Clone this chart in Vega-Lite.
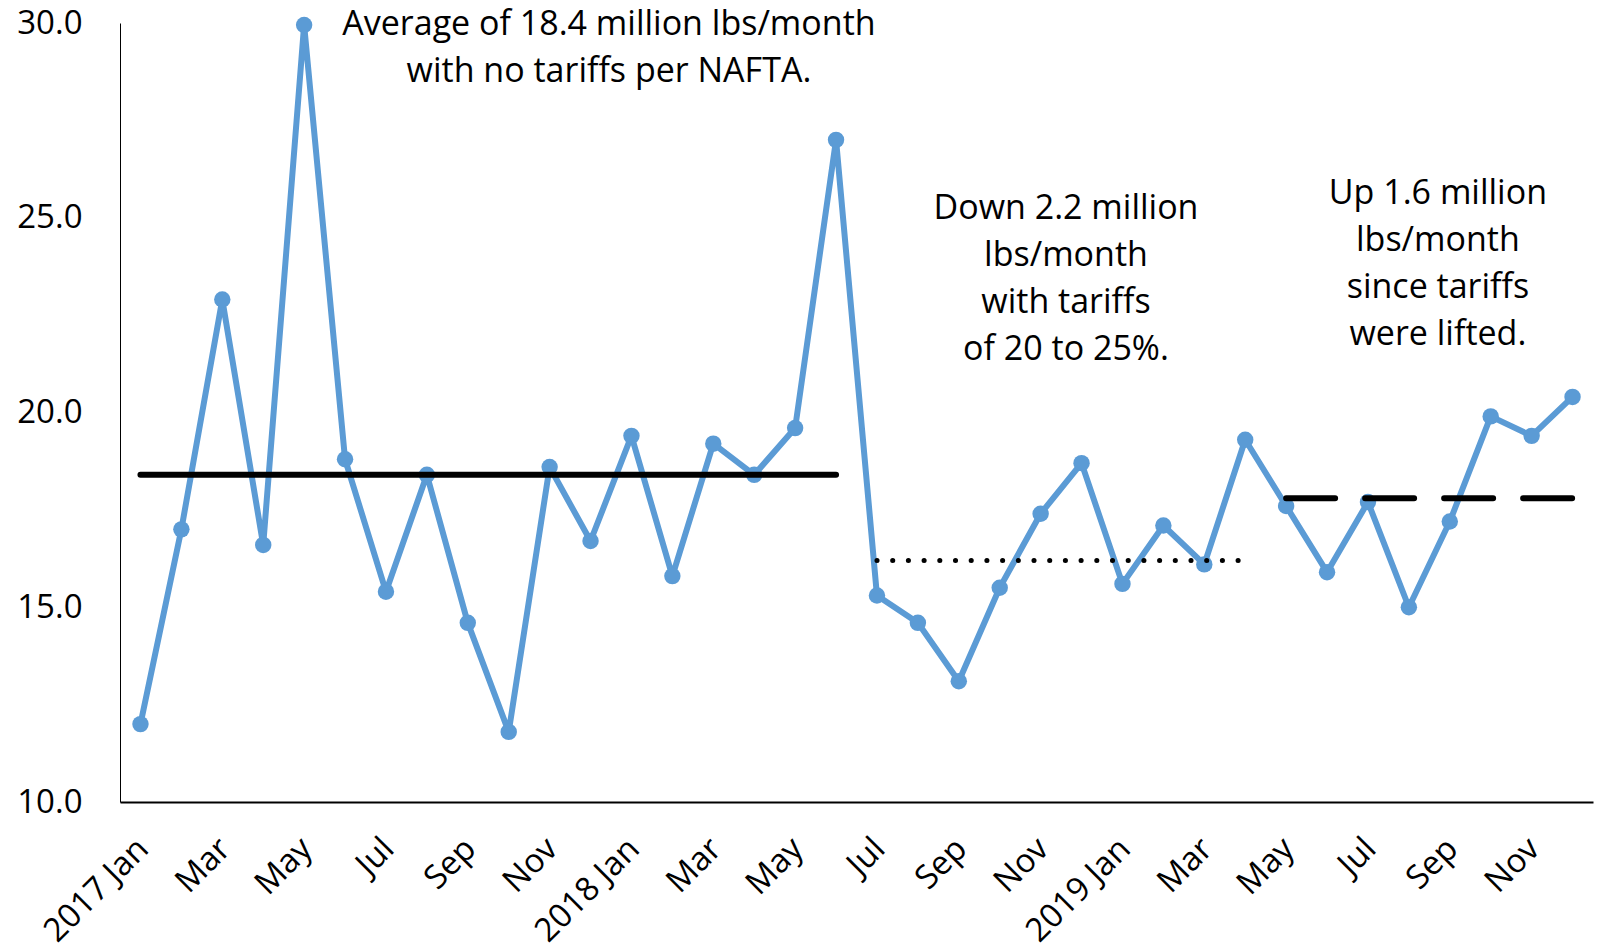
{
  "$schema": "https://vega.github.io/schema/vega-lite/v6.json",
  "autosize": "none",
  "width": 1473,
  "height": 779,
  "padding": {"left": 120, "top": 23, "right": 4, "bottom": 148},
  "background": "white",
  "config": {
    "view": {"stroke": null},
    "font": "Open Sans",
    "axis": {"labelFont": "Open Sans", "labelFontSize": 33, "labelColor": "#000000", "grid": false, "ticks": false, "domainColor": "#000000", "title": null}
  },
  "datasets": {
    "exports": [
      {"m": 1, "month": "2017 Jan", "value": 12.0},
      {"m": 2, "month": "2017 Feb", "value": 17.0},
      {"m": 3, "month": "2017 Mar", "value": 22.9},
      {"m": 4, "month": "2017 Apr", "value": 16.6},
      {"m": 5, "month": "2017 May", "value": 29.95},
      {"m": 6, "month": "2017 Jun", "value": 18.8},
      {"m": 7, "month": "2017 Jul", "value": 15.4},
      {"m": 8, "month": "2017 Aug", "value": 18.4},
      {"m": 9, "month": "2017 Sep", "value": 14.6},
      {"m": 10, "month": "2017 Oct", "value": 11.8},
      {"m": 11, "month": "2017 Nov", "value": 18.6},
      {"m": 12, "month": "2017 Dec", "value": 16.7},
      {"m": 13, "month": "2018 Jan", "value": 19.4},
      {"m": 14, "month": "2018 Feb", "value": 15.8},
      {"m": 15, "month": "2018 Mar", "value": 19.2},
      {"m": 16, "month": "2018 Apr", "value": 18.4},
      {"m": 17, "month": "2018 May", "value": 19.6},
      {"m": 18, "month": "2018 Jun", "value": 27.0},
      {"m": 19, "month": "2018 Jul", "value": 15.3},
      {"m": 20, "month": "2018 Aug", "value": 14.6},
      {"m": 21, "month": "2018 Sep", "value": 13.1},
      {"m": 22, "month": "2018 Oct", "value": 15.5},
      {"m": 23, "month": "2018 Nov", "value": 17.4},
      {"m": 24, "month": "2018 Dec", "value": 18.7},
      {"m": 25, "month": "2019 Jan", "value": 15.6},
      {"m": 26, "month": "2019 Feb", "value": 17.1},
      {"m": 27, "month": "2019 Mar", "value": 16.1},
      {"m": 28, "month": "2019 Apr", "value": 19.3},
      {"m": 29, "month": "2019 May", "value": 17.6},
      {"m": 30, "month": "2019 Jun", "value": 15.9},
      {"m": 31, "month": "2019 Jul", "value": 17.7},
      {"m": 32, "month": "2019 Aug", "value": 15.0},
      {"m": 33, "month": "2019 Sep", "value": 17.2},
      {"m": 34, "month": "2019 Oct", "value": 19.9},
      {"m": 35, "month": "2019 Nov", "value": 19.4},
      {"m": 36, "month": "2019 Dec", "value": 20.4}
    ],
    "avgNafta": [{"start": 1, "end": 18, "avg": 18.4}],
    "avgTariff": [{"start": 19, "end": 28, "avg": 16.2}],
    "avgLifted": [{"start": 29, "end": 36, "avg": 17.8}],
    "notes": [
      {"x": 12.45, "y": 29.94, "note": "Average of 18.4 million lbs/month\nwith no tariffs per NAFTA."},
      {"x": 23.62, "y": 25.23, "note": "Down 2.2 million\nlbs/month\nwith tariffs\nof 20 to 25%."},
      {"x": 32.71, "y": 25.62, "note": "Up 1.6 million\nlbs/month\nsince tariffs\nwere lifted."}
    ]
  },
  "layer": [
    {
      "data": {"name": "exports"},
      "mark": {"type": "line", "color": "#5B9BD5", "strokeWidth": 6, "strokeJoin": "round", "point": {"filled": true, "size": 270, "color": "#5B9BD5", "opacity": 1}},
      "encoding": {
        "x": {
          "field": "m", "type": "quantitative",
          "scale": {"domain": [0.5, 36.5], "nice": false, "zero": false},
          "axis": {
            "values": [1, 3, 5, 7, 9, 11, 13, 15, 17, 19, 21, 23, 25, 27, 29, 31, 33, 35],
            "labelExpr": "['','2017 Jan','','Mar','','May','','Jul','','Sep','','Nov','','2018 Jan','','Mar','','May','','Jul','','Sep','','Nov','','2019 Jan','','Mar','','May','','Jul','','Sep','','Nov',''][datum.value]",
            "labelAngle": -45,
            "labelPadding": 30,
            "labelOffset": -9,
            "domainWidth": 2,
            "labelFlush": false,
            "labelOverlap": false,
            "labelBound": false
          }
        },
        "y": {
          "field": "value", "type": "quantitative",
          "scale": {"domain": [10, 30], "nice": false, "zero": false},
          "axis": {"values": [10, 15, 20, 25, 30], "format": ".1f", "labelPadding": 38, "domainWidth": 1, "labelFlush": false}
        }
      }
    },
    {
      "data": {"name": "avgNafta"},
      "mark": {"type": "rule", "color": "#000000", "strokeWidth": 6, "strokeCap": "round"},
      "encoding": {
        "x": {"field": "start", "type": "quantitative"},
        "x2": {"field": "end"},
        "y": {"field": "avg", "type": "quantitative"}
      }
    },
    {
      "data": {"name": "avgTariff"},
      "mark": {"type": "rule", "color": "#000000", "strokeWidth": 5, "strokeCap": "round", "strokeDash": [0.1, 15.6]},
      "encoding": {
        "x": {"field": "start", "type": "quantitative"},
        "x2": {"field": "end"},
        "y": {"field": "avg", "type": "quantitative"}
      }
    },
    {
      "data": {"name": "avgLifted"},
      "mark": {"type": "rule", "color": "#000000", "strokeWidth": 6, "strokeCap": "round", "strokeDash": [49, 30]},
      "encoding": {
        "x": {"field": "start", "type": "quantitative"},
        "x2": {"field": "end"},
        "y": {"field": "avg", "type": "quantitative"}
      }
    },
    {
      "data": {"name": "notes"},
      "mark": {"type": "text", "font": "Open Sans", "fontSize": 34, "color": "#000000", "align": "center", "baseline": "middle", "lineBreak": "\n", "lineHeight": 47},
      "encoding": {
        "x": {"field": "x", "type": "quantitative"},
        "y": {"field": "y", "type": "quantitative"},
        "text": {"field": "note", "type": "nominal"}
      }
    }
  ]
}
